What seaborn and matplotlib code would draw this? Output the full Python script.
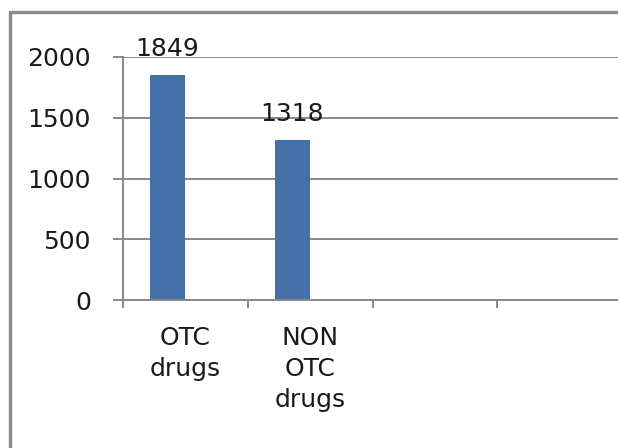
import pandas as pd
import numpy as np
import seaborn as sns
import matplotlib.pyplot as plt
from matplotlib.lines import Line2D

categories = ["OTC drugs", "NON OTC drugs", "cat3", "cat4"]
tick_labels = ["OTC\ndrugs", "NON\nOTC\ndrugs", "", ""]
series1 = [1849, 1318, np.nan, np.nan]
series2 = [np.nan, np.nan, np.nan, np.nan]
yticks = [0, 500, 1000, 1500, 2000]

rows = []
for c, v in zip(categories, series1):
    rows.append({"cat": c, "series": "Series1", "value": v})
for c, v in zip(categories, series2):
    rows.append({"cat": c, "series": "Series2", "value": v})
df = pd.DataFrame(rows)

sns.set_style("white")
plt.rcParams["font.family"] = ["DejaVu Sans"]

fig = plt.figure(figsize=(6.18, 4.48), dpi=100)
ax = fig.add_axes([123 / 618, 148 / 448, 499 / 618, 243 / 448])

grid_c = "#888888"
txt_c = "#1a1a1a"
fs = 18
for t in yticks:
    ax.axhline(t, color=grid_c, lw=1.4, zorder=0)

sns.barplot(data=df, x="cat", y="value", hue="series", order=categories,
            hue_order=["Series1", "Series2"], width=0.571, gap=0,
            palette=["#4571A8", "#4571A8"], saturation=1, dodge=True,
            legend=False, linewidth=0, ax=ax, errorbar=None, zorder=2)

for cont in ax.containers:
    ax.bar_label(cont, fmt="%d", padding=10, fontsize=fs, color=txt_c)

ax.set_xlim(-0.5, 3.5)
ax.set_ylim(0, 2000)
ax.set_yticks(yticks)
ax.set_yticklabels([str(t) for t in yticks])
ax.set_xticks(range(len(categories)))
ax.set_xticklabels(tick_labels, linespacing=1.35)
ax.set_xticks([-0.5, 0.5, 1.5, 2.5, 3.5], minor=True)
ax.tick_params(axis="x", which="major", length=0, pad=19, labelsize=fs,
               labelcolor=txt_c)
ax.tick_params(axis="x", which="minor", length=6, width=1.4, color=grid_c,
               direction="out", bottom=True)
ax.tick_params(axis="y", length=7, width=1.4, color=grid_c, pad=16,
               labelsize=fs, labelcolor=txt_c, left=True)
ax.set_xlabel("")
ax.set_ylabel("")

for s in ["top", "right"]:
    ax.spines[s].set_visible(False)
for s in ["left", "bottom"]:
    ax.spines[s].set_color(grid_c)
    ax.spines[s].set_linewidth(1.4)

# outer frame (left and top edges visible)
fig.add_artist(Line2D([10 / 618, 10 / 618], [0, 1 - 12 / 448],
                      transform=fig.transFigure, color="#8a8a8a", lw=2.4))
fig.add_artist(Line2D([10 / 618, 1], [1 - 12 / 448, 1 - 12 / 448],
                      transform=fig.transFigure, color="#8a8a8a", lw=2.4))

fig.savefig("out.png", dpi=100)
